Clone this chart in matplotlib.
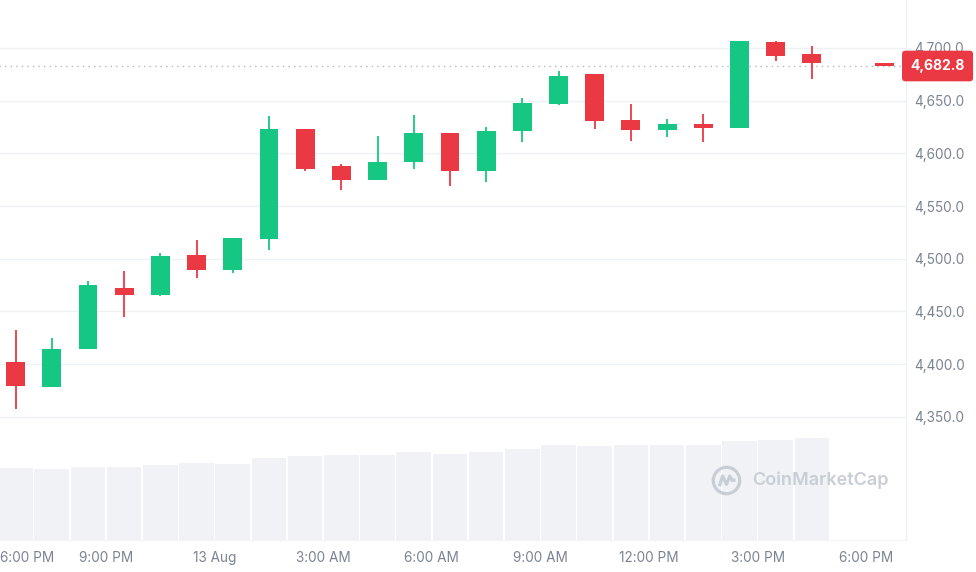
import matplotlib
matplotlib.use("Agg")
import matplotlib.pyplot as plt
from matplotlib.path import Path
from matplotlib.transforms import blended_transform_factory

# ---------------- data ----------------
# candle positions: hours after 6:00 PM (12 Aug), candles centred on the half hour
candle_hours = [0.5, 1.5, 2.5, 3.5, 4.5, 5.5, 6.5, 7.5, 8.5, 9.5, 10.5, 11.5,
                12.5, 13.5, 14.5, 15.5, 16.5, 17.5, 18.5, 19.5, 20.5, 21.5, 22.5, 24.5]
opens = [4402.5, 4378.0, 4414.0, 4472.5, 4465.5, 4504.0, 4489.0, 4519.0, 4623.0, 4587.5,
         4575.0, 4592.0, 4619.5, 4583.0, 4621.0, 4647.0, 4675.0, 4631.5, 4622.0, 4627.5,
         4624.0, 4705.5, 4694.0, 4685.5]
highs = [4432.0, 4425.0, 4479.0, 4488.5, 4505.5, 4518.0, 4519.5, 4635.0, 4623.0, 4590.0,
         4616.0, 4636.0, 4619.5, 4625.0, 4652.5, 4678.0, 4675.0, 4646.5, 4632.5, 4637.0,
         4706.5, 4706.5, 4702.0, 4686.0]
lows = [4357.0, 4378.0, 4414.0, 4445.0, 4465.0, 4482.0, 4486.5, 4508.5, 4583.0, 4565.5,
        4575.0, 4585.5, 4569.0, 4572.5, 4611.0, 4645.5, 4623.0, 4611.5, 4615.0, 4611.0,
        4624.0, 4688.0, 4670.0, 4682.5]
closes = [4379.0, 4414.0, 4475.5, 4465.5, 4503.0, 4489.0, 4519.5, 4623.0, 4585.5, 4575.0,
          4592.0, 4619.5, 4583.0, 4621.5, 4648.0, 4673.5, 4630.5, 4622.0, 4627.5, 4624.0,
          4706.5, 4692.0, 4685.5, 4682.8]

volume_hours = [0.5, 1.5, 2.5, 3.5, 4.5, 5.5, 6.5, 7.5, 8.5, 9.5, 10.5, 11.5,
                12.5, 13.5, 14.5, 15.5, 16.5, 17.5, 18.5, 19.5, 20.5, 21.5, 22.5]
volumes_bn = [36.0, 35.5, 36.5, 36.5, 37.5, 38.5, 38.0, 41.0, 42.0, 42.5, 42.5, 44.0,
              43.0, 44.0, 45.5, 47.5, 47.0, 47.5, 47.5, 47.5, 49.5, 50.0, 51.0]

x_tick_hours = [0, 3, 6, 9, 12, 15, 18, 21, 24]
x_tick_labels = ["6:00 PM", "9:00 PM", "13 Aug", "3:00 AM", "6:00 AM",
                 "9:00 AM", "12:00 PM", "3:00 PM", "6:00 PM"]
price_ticks = [4350, 4400, 4450, 4500, 4550, 4600, 4650, 4700]
last_price = 4682.8

# ---------------- style ----------------
GREEN = "#16c784"
RED = "#ea3943"
GRID = "#eff2f5"
VOL = "#f0f2f5"
TXT = "#7b8393"
plt.rcParams['font.family'] = ['Inter', 'DejaVu Sans']

fig = plt.figure(figsize=(9.76, 5.72), dpi=100)
rect = [-13.4 / 976, 32 / 572, 919.4 / 976, 540 / 572]
ax_vol = fig.add_axes(rect)
ax = ax_vol.twinx()

# volume
ax_vol.bar(volume_hours, volumes_bn, width=0.955, color=VOL, linewidth=0, zorder=1)
ax_vol.set_ylim(0, 270)
ax_vol.set_yticks([])

# candles
colors = [GREEN if c >= o else RED for o, c in zip(opens, closes)]
bottoms = [min(o, c) for o, c in zip(opens, closes)]
heights = [max(abs(c - o), 1.2) for o, c in zip(opens, closes)]
ax.vlines(candle_hours, lows, highs, colors=colors, linewidth=1.3, zorder=3)
ax.bar(candle_hours, heights, bottom=bottoms, width=0.52, color=colors,
       linewidth=0, zorder=4)

ax.set_ylim(4233.2, 4745.4)
ax.set_xlim(-0.3, 25.1)
ax.set_yticks(price_ticks)
ax.set_yticklabels([f"{p:,.1f}" for p in price_ticks])
ax.grid(axis='y', color=GRID, linewidth=1, zorder=0)
ax.axhline(last_price, color="#b1b8c5", linewidth=1, linestyle=(0, (1, 3)), zorder=2)

# x ticks (the first, at the left edge, is drawn shifted inside like the source chart)
ax_vol.set_xticks(x_tick_hours[1:])
ax_vol.set_xticklabels(x_tick_labels[1:])

for a in (ax, ax_vol):
    a.tick_params(length=0, labelsize=9.8, labelcolor=TXT)
    for s in ("top", "left"):
        a.spines[s].set_visible(False)
    a.spines["right"].set_color("#eceff3")
    a.spines["bottom"].set_color("#f2f4f6")
ax.tick_params(axis='y', pad=6)
ax_vol.tick_params(axis='x', pad=8)

first_lbl = ax_vol.text(0, 0, x_tick_labels[0], ha='left', va='top', color=TXT,
                        fontsize=9.8, clip_on=False,
                        transform=fig.transFigure)
first_lbl.set_position((0.5 / 976, (32 - 11) / 572 + 0.0))

# current price label
trans = blended_transform_factory(ax.transAxes, ax.transData)
ax.text(1.0343, last_price, f"{last_price:,.1f}", transform=trans, ha='center',
        va='center', color='white', fontsize=10, fontweight='bold', clip_on=False,
        zorder=10,
        bbox=dict(boxstyle='round,pad=0.6,rounding_size=0.25', fc=RED, ec='none'))

# watermark
WM = "#c9ced6"
ax.plot([0.804], [0.111], transform=ax.transAxes, marker='o', markersize=19,
        mfc='none', mec=WM, mew=2.3, zorder=6)
m_path = Path([(-0.55, -0.45), (-0.3, 0.35), (0.0, -0.3), (0.25, 0.35), (0.45, 0.0), (0.7, 0.05)],
              [Path.MOVETO] + [Path.LINETO] * 5)
ax.plot([0.804], [0.111], transform=ax.transAxes, marker=m_path, markersize=13,
        mfc='none', mec=WM, mew=2.3, zorder=6)
ax.text(0.8325, 0.111, "CoinMarketCap", transform=ax.transAxes, ha='left', va='center',
        color=WM, fontsize=13, fontweight='semibold', zorder=6)

fig.savefig("out.png", dpi=100)
